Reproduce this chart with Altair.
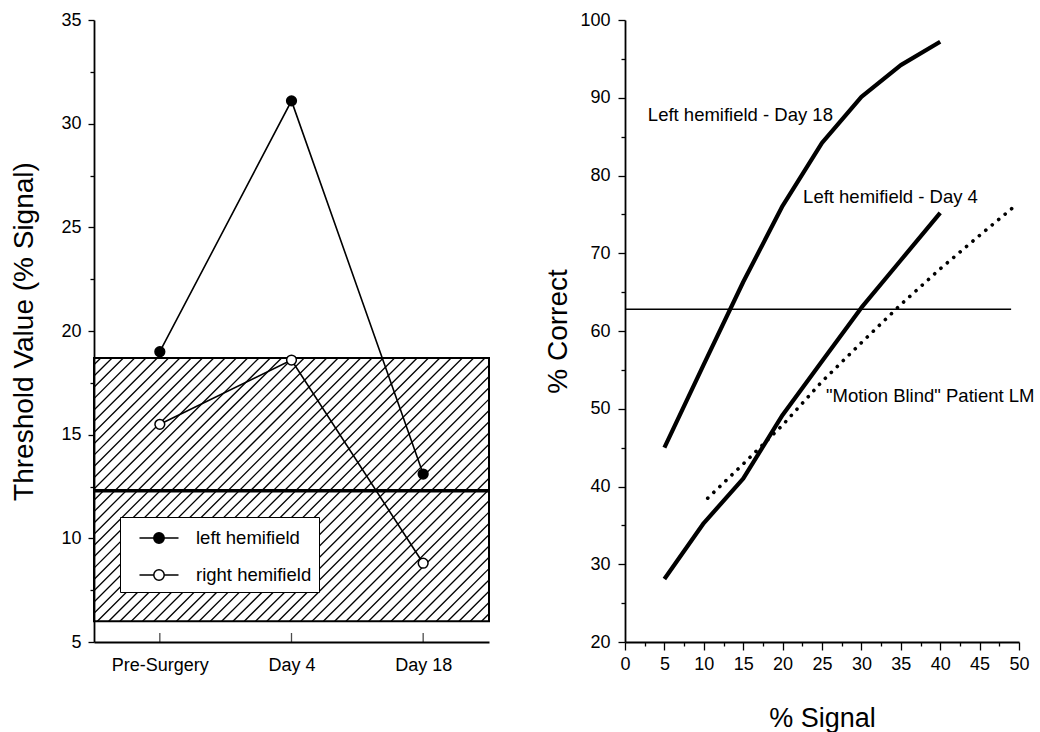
import json
import altair as alt
import pandas as pd

# ---------------- data: left panel ----------------
conditions = ["Pre-Surgery", "Day 4", "Day 18"]
cond_pos = [0, 1, 2]
left_hemifield = [19.0, 31.1, 13.1]
right_hemifield = [15.5, 18.6, 8.8]
series_names = ["left hemifield", "right hemifield"]
normal_lo = [6.0]
normal_hi = [18.7]
normal_mean = [12.3]
left_y_ticks = [5, 7.5, 10, 12.5, 15, 17.5, 20, 22.5, 25, 27.5, 30, 32.5, 35]

# ---------------- data: right panel ----------------
signal = [5, 10, 15, 20, 25, 30, 35, 40]
day18 = [45.0, 55.7, 66.3, 76.1, 84.2, 90.1, 94.2, 97.2]
day4 = [28.1, 35.3, 41.0, 49.2, 56.1, 63.0, 69.1, 75.2]
lm_signal = [10.5, 15, 20, 25, 30, 35, 40, 45, 49.5]
lm_correct = [38.5, 42.9, 47.9, 53.5, 58.5, 63.4, 68.0, 72.3, 76.1]
chance_x = [0]
chance_x2 = [49]
chance_y = [62.8]
curve_labels = ["Left hemifield - Day 18", "Left hemifield - Day 4", '"Motion Blind" Patient LM']
label_x = [2.9, 22.6, 25.5]
label_y = [87.8, 77.2, 51.7]
right_x_ticks = [0, 2.5, 5, 7.5, 10, 12.5, 15, 17.5, 20, 22.5, 25, 27.5, 30, 32.5,
                 35, 37.5, 40, 42.5, 45, 47.5, 50]
right_y_ticks = [20, 25, 30, 35, 40, 45, 50, 55, 60, 65, 70, 75, 80, 85, 90, 95, 100]

FONT = "Liberation Sans"
WL, WR, H = 395, 394, 622
XDOM_L = [-0.5, 2.5]
YDOM_L = [5, 35]

# ---------------- tables ----------------
left_df = pd.DataFrame({
    "pos": cond_pos * 2,
    "series": [series_names[0]] * 3 + [series_names[1]] * 3,
    "value": left_hemifield + right_hemifield,
})
band_df = pd.DataFrame({"lo": normal_lo, "hi": normal_hi})
mean_df = pd.DataFrame({"m": normal_mean})
cond_df = pd.DataFrame({"pos": cond_pos})

curves_df = pd.DataFrame({
    "sig": signal * 2,
    "pc": day18 + day4,
    "curve": ["d18"] * len(signal) + ["d4"] * len(signal),
})
lm_df = pd.DataFrame({"sig": lm_signal, "pc": lm_correct})
chance_df = pd.DataFrame({"x": chance_x, "x2": chance_x2, "y": chance_y})
lab_df = pd.DataFrame({"x": label_x, "y": label_y, "t": curve_labels})

# ---------------- diagonal hatching of the normal band (decoration) ----------------
# 45-degree "/" strokes, spaced evenly, clipped to the band, in data units
ux = WL / (XDOM_L[1] - XDOM_L[0])          # px per x unit
uy = H / (YDOM_L[1] - YDOM_L[0])           # px per y unit
bw = WL
bh = (normal_hi[0] - normal_lo[0]) * uy
spacing = 11.3
rows = []
cval = -bh + spacing * 0.6
while cval < bw:
    X0 = max(cval, 0.0)
    X1 = min(bw, bh + cval)
    rows.append({
        "hx": XDOM_L[0] + X0 / ux, "hy": normal_lo[0] + (X0 - cval) / uy,
        "hx2": XDOM_L[0] + X1 / ux, "hy2": normal_lo[0] + (X1 - cval) / uy,
    })
    cval += spacing
hatch_df = pd.DataFrame(rows)

# ---------------- left panel ----------------
xscL = alt.Scale(domain=XDOM_L, nice=False, zero=False)
xaxL = alt.Axis(title=None, values=cond_pos, ticks=False, labelPadding=14,
                labelFontSize=18, labelAngle=0, labelFlush=False,
                labelExpr=json.dumps(conditions) + "[datum.value]")
yaxL = alt.Axis(title="Threshold Value (% Signal)", values=left_y_ticks,
                labelExpr="datum.value % 5 === 0 ? datum.label : ''",
                tickSize=alt.condition("datum.value % 5 === 0", alt.value(6), alt.value(4)),
                labelPadding=7, titlePadding=22, titleFontSize=28, labelFontSize=18,
                labelOverlap=False)
yscL = alt.Scale(domain=YDOM_L, nice=False)

hatch = alt.Chart(hatch_df).mark_rule(color="black", strokeWidth=1.3).encode(
    x=alt.X("hx:Q", scale=xscL, axis=xaxL), x2="hx2:Q",
    y=alt.Y("hy:Q", scale=yscL, axis=yaxL), y2="hy2:Q")

band = alt.Chart(band_df).mark_rect(fillOpacity=0, stroke="black", strokeWidth=2).encode(
    x=alt.value(0), x2=alt.value("width"),
    y=alt.Y("lo:Q", scale=yscL, axis=yaxL), y2="hi:Q")

mean_rule = alt.Chart(mean_df).mark_rule(color="black", strokeWidth=3.5).encode(
    x=alt.value(0), x2=alt.value("width"),
    y=alt.Y("m:Q", scale=yscL, axis=yaxL))

lines = alt.Chart(left_df).mark_line(color="black", strokeWidth=1.6).encode(
    x=alt.X("pos:Q", scale=xscL, axis=xaxL),
    y=alt.Y("value:Q", scale=yscL, axis=yaxL), detail="series:N")

symbol_path = ("M-1.5,0L-0.4,0M0.4,0L1.5,0M-0.4,0A0.4,0.4,0,1,1,0.4,0"
               "A0.4,0.4,0,1,1,-0.4,0Z")
points = alt.Chart(left_df).mark_point(filled=True, shape="circle", stroke="black",
                                       strokeWidth=1.5, size=95, opacity=1).encode(
    x=alt.X("pos:Q", scale=xscL, axis=xaxL),
    y=alt.Y("value:Q", scale=yscL, axis=yaxL),
    fill=alt.Fill("series:N",
                  scale=alt.Scale(domain=series_names, range=["black", "white"]),
                  legend=alt.Legend(title=None, orient="none", legendX=26, legendY=497,
                                    fillColor="white", strokeColor="black", padding=7,
                                    symbolType=symbol_path, symbolSize=676,
                                    symbolStrokeColor="black", symbolStrokeWidth=1.5,
                                    symbolOffset=18, labelOffset=23, rowPadding=13,
                                    labelFontSize=18.5, labelFont=FONT,
                                    labelColor="black")))

xticks_in = alt.Chart(cond_df).mark_tick(orient="vertical", size=9, thickness=1.3,
                                         color="black", yOffset=-4.5).encode(
    x=alt.X("pos:Q", scale=xscL, axis=xaxL), y=alt.datum(5))

left = alt.layer(hatch, band, mean_rule, lines, points, xticks_in).properties(
    width=WL, height=H)

# ---------------- right panel ----------------
xaxR = alt.Axis(title="% Signal", values=right_x_ticks,
                labelExpr="datum.value % 5 === 0 ? datum.label : ''",
                tickSize=alt.condition("datum.value % 5 === 0", alt.value(8), alt.value(4)),
                labelPadding=5, titlePadding=32, titleFontSize=27, labelFontSize=18,
                labelOverlap=False, labelFlush=False)
yaxR = alt.Axis(title="% Correct", values=right_y_ticks,
                labelExpr="datum.value % 10 === 0 ? datum.label : ''",
                tickSize=alt.condition("datum.value % 10 === 0", alt.value(7), alt.value(4)),
                labelPadding=8, titlePadding=7, titleFontSize=28, labelFontSize=18,
                labelOverlap=False)
xscR = alt.Scale(domain=[0, 50], nice=False)
yscR = alt.Scale(domain=[20, 100], nice=False)

chance = alt.Chart(chance_df).mark_rule(color="black", strokeWidth=1.5).encode(
    x=alt.X("x:Q", scale=xscR, axis=xaxR), x2="x2:Q",
    y=alt.Y("y:Q", scale=yscR, axis=yaxR))

curves = alt.Chart(curves_df).mark_line(color="black", strokeWidth=4.2,
                                        strokeJoin="round").encode(
    x=alt.X("sig:Q", scale=xscR, axis=xaxR),
    y=alt.Y("pc:Q", scale=yscR, axis=yaxR), detail="curve:N")

lm = alt.Chart(lm_df).mark_line(color="black", strokeWidth=3.6, strokeCap="round",
                                strokeDash=[0.1, 8.3]).encode(
    x=alt.X("sig:Q", scale=xscR, axis=xaxR),
    y=alt.Y("pc:Q", scale=yscR, axis=yaxR))

labels = alt.Chart(lab_df).mark_text(align="left", baseline="middle", fontSize=18.5,
                                     font=FONT, color="black").encode(
    x=alt.X("x:Q", scale=xscR, axis=xaxR),
    y=alt.Y("y:Q", scale=yscR, axis=yaxR), text="t:N")

right = alt.layer(chance, curves, lm, labels).properties(width=WR, height=H)

chart = alt.hconcat(left, right, spacing=53).properties(
    padding={"left": 10, "top": 11, "right": 2, "bottom": 2}
).configure_view(stroke=None).configure_axis(
    grid=False, domainColor="black", tickColor="black", labelColor="black",
    titleColor="black", domainWidth=1.8, tickWidth=1.3, labelFont=FONT,
    titleFont=FONT, titleFontWeight="normal"
)

chart.save("out.html", embed_options={"renderer": "svg", "actions": False})
